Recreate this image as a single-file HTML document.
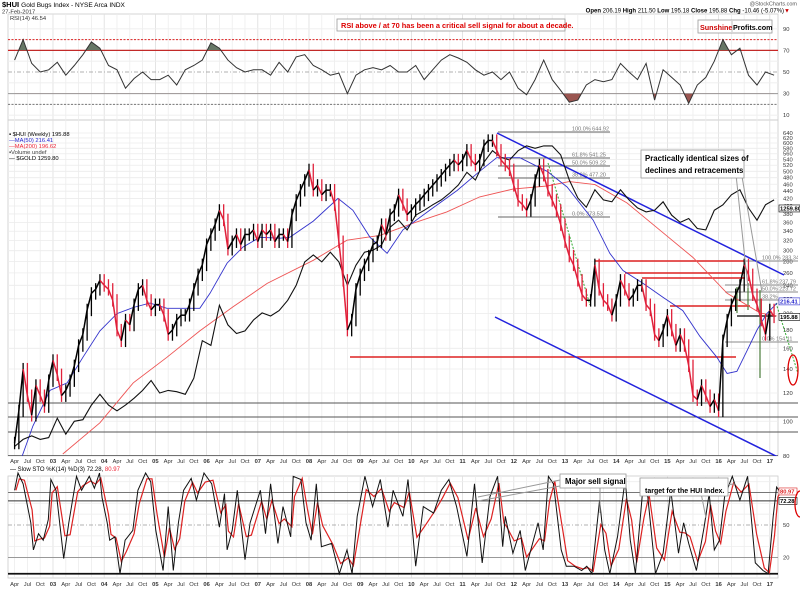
<!DOCTYPE html>
<html><head><meta charset="utf-8"><style>
html,body{margin:0;padding:0;background:#fff}
svg{display:block;font-family:"Liberation Sans",sans-serif}
</style></head><body>
<svg id="c" width="800" height="591" viewBox="0 0 800 591" xmlns="http://www.w3.org/2000/svg">
<rect width="800" height="591" fill="#fff"/>
<g id="grid"></g>
<text x="2" y="7" font-size="7.5" font-weight="bold">$HUI <tspan font-weight="normal" font-size="6.5">Gold Bugs Index - NYSE Arca INDX</tspan></text>
<text x="2" y="13.5" font-size="5.8" fill="#333">27-Feb-2017</text>
<text x="797" y="5.5" font-size="5.5" fill="#555" text-anchor="end">@StockCharts.com</text>
<text x="790" y="12.5" font-size="6" text-anchor="end"><tspan font-weight="bold">Open</tspan> 206.19 <tspan font-weight="bold">High</tspan> 211.50 <tspan font-weight="bold">Low</tspan> 195.18 <tspan font-weight="bold">Close</tspan> 195.88 <tspan font-weight="bold">Chg</tspan> -10.46 (-5.07%)<tspan fill="#c00">▼</tspan></text>
<text x="10" y="20" font-size="5.8" fill="#333">RSI(14) 46.54</text>
<g id="plots"></g>
<g>
<rect x="337" y="19" width="228" height="12" fill="#fff" stroke="#999" stroke-width="0.8"/>
<text x="341" y="28" font-size="7.4" font-weight="bold" fill="#d00">RSI above / at 70 has been a critical sell signal for about a decade.</text></g>
<g>
<rect x="698" y="20" width="74" height="13" fill="#fff" stroke="#999" stroke-width="0.8"/>
<text x="700" y="30" font-size="7.2" font-weight="bold" fill="#c00">Sunshine</text>
<line x1="732" y1="21" x2="732" y2="32" stroke="#999" stroke-width="0.6"/>
<text x="733" y="30" font-size="7.2" font-weight="bold">Profits.com</text></g>
<g font-size="5.8">
<text x="9" y="136">▪ $HUI (Weekly) 195.88</text>
<text x="9" y="142" fill="#22c">—MA(50) 216.41</text>
<text x="9" y="148" fill="#e23">—MA(200) 196.62</text>
<text x="9" y="154" fill="#444">▪Volume undef</text>
<text x="9" y="160">— $GOLD 1259.80</text></g>
<text x="10" y="471" font-size="6">— Slow STO %K(14) %D(3) 72.28, <tspan fill="#e23">80.97</tspan></text>
<g>
<line x1="735" y1="165" x2="748" y2="288" stroke="#999" stroke-width="1"/>
<line x1="740" y1="165" x2="762" y2="292" stroke="#999" stroke-width="1"/>
<rect x="641" y="150" width="103" height="28" fill="#fff" stroke="#999" stroke-width="0.8"/>
<text x="645" y="161" font-size="7.8" font-weight="bold">Practically identical sizes of</text>
<text x="645" y="173" font-size="7.8" font-weight="bold">declines and retracements</text></g>
<g>
<line x1="560" y1="480" x2="478" y2="497" stroke="#999" stroke-width="1"/>
<line x1="560" y1="486" x2="478" y2="501" stroke="#999" stroke-width="1"/>
<line x1="600" y1="488" x2="600" y2="513" stroke="#999" stroke-width="1"/>
<line x1="700" y1="488" x2="706" y2="518" stroke="#999" stroke-width="1"/>
<line x1="680" y1="488" x2="735" y2="484" stroke="#999" stroke-width="1"/>
<rect x="560" y="474" width="66" height="14" fill="#fff" stroke="#999" stroke-width="0.8"/>
<text x="565" y="484" font-size="7.8" font-weight="bold">Major sell signal</text>
<rect x="640" y="478" width="88" height="18" fill="#fff" stroke="#999" stroke-width="0.8"/>
<text x="645" y="493" font-size="7" font-weight="bold">target for the HUI Index.</text></g>
<ellipse cx="793" cy="370" rx="5" ry="15" fill="none" stroke="#d00" stroke-width="1.3"/>
<ellipse cx="800" cy="504" rx="5" ry="13" fill="none" stroke="#d00" stroke-width="1.3"/>
</svg>
<script>
// ---- data (monthly from Apr 2002) ----
const huiValues=[87,107,140,118,104,126,118,110,130,148,135,118,122,130,143,163,175,205,228,234,248,240,234,218,180,168,192,186,212,234,240,218,205,212,212,198,175,180,192,198,198,212,234,257,274,312,333,355,389,366,303,318,333,312,333,333,343,318,343,333,343,318,333,333,318,378,415,443,472,505,443,457,430,443,443,404,318,248,180,192,234,257,274,290,312,318,355,333,378,389,430,404,378,389,404,415,430,443,457,472,488,505,521,538,521,538,573,538,521,538,590,610,610,573,538,521,505,457,415,404,389,415,472,521,488,443,415,389,355,318,290,274,248,226,218,218,274,234,218,212,198,218,248,234,218,226,240,240,212,205,175,168,180,198,180,163,175,163,143,118,115,126,118,110,115,107,168,192,212,226,240,274,257,226,212,192,175,205,196];
const goldStep=2;
const goldValues=[85,89,91,89,90,102,92,100,101,111,119,111,107,111,116,122,130,120,122,121,119,132,168,163,211,186,176,179,192,201,197,204,218,240,279,292,279,297,279,240,273,297,301,311,349,365,343,377,389,403,416,435,458,497,473,530,571,547,538,571,589,580,589,589,556,473,421,397,444,416,411,444,416,395,385,389,411,377,360,369,346,343,389,403,430,444,395,365,403,416];
const ma50Months=[1.3,4.3,8.3,12.3,16,20,24,27.8,31.7,35.7,39.5,43.4,45.8,49.8,53.5,57.5,62.2,64.5,70,75.8,79.3,83.3,87.3,91,97.3,103.7,109,113,118.4,124.8,129.5,135.6,139.5,142.6,147.3,152,156.6,160.6,164.6,167,169.3,171.6,174,176.3,178.7];
const ma50Values=[77,97,122,128,151,179,200,208,214,207,207,207,228,277,307,327,325,327,363,420,389,327,295,343,389,442,500,546,546,500,452,365,295,264,243,222,204,173,151,136,138,157,180,200,214];
const ma200Months=[11.3,20,27.8,35.7,43.4,51.2,59.2,70,77.9,85.6,93.4,101.3,109,116.8,124.8,130,136,143.5,151.3,159,167,174.7,178.6];
const ma200Values=[81,99,128,151,179,209,243,282,321,331,358,385,424,446,455,468,459,408,342,287,228,201,197];
const rsiStep=2;
const rsiValues=[61,80,58,50,52,59,47,56,66,78,72,56,52,35,44,50,43,43,47,38,52,56,61,77,72,61,54,50,52,52,47,59,50,64,66,56,52,47,49,30,47,52,54,52,56,50,50,56,43,52,61,66,63,59,52,47,50,43,50,35,29,43,61,43,33,22,24,38,43,41,43,58,50,43,58,24,52,45,38,21,38,45,60,80,66,72,47,38,50,47];
const stoMonths=[0,0.8,2,3.8,4.4,5.6,6.7,7.9,8.5,9.7,11.5,12.7,14.5,15.7,17.5,18.7,19.9,20.5,21.7,22.3,23.5,24.7,25.9,27.7,28.9,30.7,31.9,33.1,34.8,36,37.2,38.4,39.6,41.4,42.6,44.4,46.2,48,49.2,49.8,51,52.2,54,55.2,57.6,58.8,60,61.7,62.9,64.7,65.3,67.1,68.3,69.5,70.7,71.9,74.3,76.1,77.9,79.1,80.3,82.1,83.9,85.7,87.5,88.7,91,92.2,94,95.8,98.2,100,101.8,103.6,106,107.8,109.6,111.4,113.2,114.4,115,116.8,118.5,119.7,122.7,123.9,125.1,126.3,128.1,129.3,131.1,132.9,134.1,135.3,137.1,138.3,139.5,141.3,143.1,144.3,145.5,147.2,148.4,150.2,152,153.8,155.6,156.8,158,159.8,161.6,162.8,164,165.2,166.4,168.2,170,171.8,173.6,175.4,176.6,177.8,178.6,179.5];
const stoValues=[82,98,88,52,27,42,36,55,92,82,19,52,95,82,95,84,98,75,52,36,39,5,36,45,82,98,90,45,8,67,8,52,82,93,73,98,88,48,79,27,45,82,18,52,82,42,88,33,67,39,95,92,52,36,88,30,33,5,27,5,58,95,67,92,48,82,58,92,12,67,61,82,92,67,21,88,15,76,95,30,58,24,45,8,52,27,95,88,27,12,12,8,12,5,73,27,5,39,92,36,5,82,76,5,24,82,24,52,33,8,48,79,27,36,76,95,73,95,15,8,5,58,85,80];
const priceTicks=[640,620,600,580,560,540,520,500,480,460,440,420,400,380,360,340,320,300,280,260,240,220,200,180,160,140,120,100,80];
const rsiTicks=[90,70,50,30,10];
const stoTicks=[80,50,20];
const yearLabels=["03","04","05","06","07","08","09","10","11","12","13","14","15","16","17"];
const quarterLabels=["Apr","Jul","Oct"];

// ---- scales ----
const X0=14.6, PX_PER_MONTH=51.2/12, L=8, R=778;
const xM=m=>X0+m*PX_PER_MONTH;
const yP=v=>133+155.3*Math.log(640/v);
const yR=v=>72-(v-50)*1.08;
const yS=v=>525-(v-50)*1.083;
const NS="http://www.w3.org/2000/svg";
const grid=document.getElementById('grid'), plots=document.getElementById('plots');
function mk(tag,attrs,parent){const e=document.createElementNS(NS,tag);for(const k in attrs)e.setAttribute(k,attrs[k]);parent.appendChild(e);return e;}
function poly(ms,vs,yf,parent,stroke,w,extra){
  const pts=ms.map((m,i)=>xM(m).toFixed(1)+','+yf(vs[i]).toFixed(1)).join(' ');
  const p=mk('polyline',Object.assign({points:pts,fill:'none',stroke:stroke,'stroke-width':w},extra||{}),parent);return p;}

const panels=[[14,120],[120,456],[476,578]];
panels.forEach(([t,b],i)=>{
  const r=mk('rect',{x:L,y:t,width:R-L,height:b-t,fill:'none',stroke:'#ccc','stroke-width':0.8},grid);
  
  
});
for(let q=0;q<60;q++){
  const m=q*3, x=xM(m); if(x>R) break;
  [[14,120],[120,456],[476,578]].forEach(([t,b])=>{
    const ln=mk('line',{x1:x,y1:t,x2:x,y2:b,stroke:(q%4===3)?'#ddd':'#ececec','stroke-width':0.8},grid);
    
    
  });
  const isYear=(q%4===3);
  const lab=isYear?yearLabels[(q-3)/4]:quarterLabels[q%4];
  [463,586].forEach(y=>{
    const t=mk('text',{x:x,y:y,'font-size':5.8,'text-anchor':'middle','font-weight':isYear?'bold':'normal',fill:'#333'},grid);
    t.textContent=lab;
    
    
  });
}
priceTicks.forEach(v=>{
  const y=yP(v);
  const ln=mk('line',{x1:L,y1:y,x2:R,y2:y,stroke:'#ececec','stroke-width':0.8},grid);
  
  
  const t=mk('text',{x:783,y:y+2,'font-size':5.8,fill:'#333'},grid);t.textContent=v;
  
  
});
rsiTicks.forEach(v=>{const t=mk('text',{x:783,y:yR(v)+2,'font-size':5.8,fill:'#333'},grid);t.textContent=v;
  
  });
[10,20,30,40,60,80,90].forEach(v=>{const ln=mk('line',{x1:L,y1:yR(v),x2:R,y2:yR(v),stroke:'#eee','stroke-width':0.8},grid);
  
  });
stoTicks.forEach(v=>{const t=mk('text',{x:783,y:yS(v)+2,'font-size':5.8,fill:'#333'},grid);t.textContent=v;
  
  });
[30,40,60,70,90].forEach(v=>{const ln=mk('line',{x1:L,y1:yS(v),x2:R,y2:yS(v),stroke:'#eee','stroke-width':0.8},grid);
  
  });

// ---- RSI panel ----
const rsiG=mk('g',{},plots);


mk('line',{x1:L,y1:yR(80),x2:R,y2:yR(80),stroke:'#d22','stroke-width':1,'stroke-dasharray':'2,1.5'},rsiG);
mk('line',{x1:L,y1:yR(70),x2:R,y2:yR(70),stroke:'#c22','stroke-width':1.3},rsiG);
mk('line',{x1:L,y1:yR(50),x2:R,y2:yR(50),stroke:'#999','stroke-width':0.8,'stroke-dasharray':'4,2,1,2'},rsiG);
mk('line',{x1:L,y1:yR(30),x2:R,y2:yR(30),stroke:'#999','stroke-width':1},rsiG);
mk('line',{x1:L,y1:yR(20),x2:R,y2:yR(20),stroke:'#777','stroke-width':1,'stroke-dasharray':'2,1.5'},rsiG);
const rsiMonths=rsiValues.map((v,i)=>i*rsiStep);
const defs=mk('defs',{},plots);
const c1=mk('clipPath',{id:'above70'},defs);mk('rect',{x:0,y:0,width:800,height:yR(70)},c1);
const c2=mk('clipPath',{id:'below30'},defs);mk('rect',{x:0,y:yR(30),width:800,height:40},c2);
const cm=mk('clipPath',{id:'mainclip'},defs);mk('rect',{x:L,y:120,width:R-L+20,height:336},cm);
let pts=rsiMonths.map((m,i)=>xM(m).toFixed(1)+','+yR(rsiValues[i]).toFixed(1)).join(' ');
const f1=mk('polygon',{points:xM(0)+','+yR(70)+' '+pts+' '+xM(rsiMonths[rsiMonths.length-1])+','+yR(70),fill:'#667766','clip-path':'url(#above70)'},rsiG);


const f2=mk('polygon',{points:xM(0)+','+yR(30)+' '+pts+' '+xM(rsiMonths[rsiMonths.length-1])+','+yR(30),fill:'#9a5550','clip-path':'url(#below30)'},rsiG);


const rl=poly(rsiMonths,rsiValues,yR,rsiG,'#333',1);



// ---- main panel ----
const mg=mk('g',{'clip-path':'url(#mainclip)'},plots);


[403,417,432].forEach(y=>mk('line',{x1:L,y1:y,x2:R+20,y2:y,stroke:'#555','stroke-width':1},mg));
mk('line',{x1:L,y1:456,x2:R,y2:456,stroke:'#444','stroke-width':1.5},mg);
[[132,'100.0% 644.92'],[158,'61.8% 541.25'],[166,'50.0% 509.22'],[178,'38.2% 477.20'],[217,'0.0% 373.53']].forEach(([y,t])=>{
  mk('line',{x1:498,y1:y,x2:610,y2:y,stroke:'#666','stroke-width':0.9},mg);
  const tx=mk('text',{x:572,y:y-1.5,'font-size':5.5,fill:'#777'},mg);tx.textContent=t;
  
  
});
[[261,'100.0% 283.34'],[285,'61.8% 237.79'],[292,'50.0% 223.72'],[300,'38.2%'],[342,'0.0% 154.11']].forEach(([y,t])=>{
  mk('line',{x1:725,y1:y,x2:800,y2:y,stroke:'#888','stroke-width':0.9},mg);
  const tx=mk('text',{x:762,y:y-1.5,'font-size':5.5,fill:'#777'},mg);tx.textContent=t;
  
  
});
[[350,357,736],[595,261,745],[625,273,745],[642,278,745],[670,306,750]].forEach(([x1,y,x2])=>{
  const l=mk('line',{x1:x1,y1:y,x2:x2,y2:y,stroke:'#d22','stroke-width':1.4},mg);
  
  
});
mk('line',{x1:737,y1:316,x2:776,y2:316,stroke:'#000','stroke-width':1.2},mg);
[[737,287,313],[748,283,310],[760,290,378]].forEach(([x,a,b])=>mk('line',{x1:x,y1:a,x2:x,y2:b,stroke:'#4a7a3a','stroke-width':1.2},mg));
mk('line',{x1:548,y1:163,x2:590,y2:305,stroke:'#3a3','stroke-width':1,'stroke-dasharray':'2,1.5'},mg);
mk('line',{x1:776,y1:303,x2:800,y2:380,stroke:'#3a3','stroke-width':1,'stroke-dasharray':'2,1.5'},mg);
const t1=mk('line',{x1:497,y1:133,x2:784,y2:275,stroke:'#22d','stroke-width':1.5},mg);


const t2=mk('line',{x1:495,y1:317,x2:790,y2:463,stroke:'#22d','stroke-width':1.5},mg);


const m200=poly(ma200Months,ma200Values,yP,mg,'#e55',0.9);


const m50=poly(ma50Months,ma50Values,yP,mg,'#33c',0.9);


const goldMonths=goldValues.map((v,i)=>i*goldStep);
const gl=poly(goldMonths,goldValues,yP,mg,'#111',1.1);


// HUI: monthly range bars + connecting segments
for(let i=0;i<huiValues.length;i++){
  const v=huiValues[i], prev=huiValues[Math.max(0,i-1)];
  const hi=Math.max(v,prev)*1.04, lo=Math.min(v,prev)*0.96;
  const col=v<prev?'#e0203a':'#000';
  const b=mk('line',{x1:xM(i),y1:yP(hi),x2:xM(i),y2:yP(lo),stroke:col,'stroke-width':1.3},mg);
  
  
  if(i>0){
    const s=mk('line',{x1:xM(i-1),y1:yP(prev),x2:xM(i),y2:yP(v),stroke:col,'stroke-width':1.5},mg);
    
    
  }
}
[[yP(195.88),'195.88','#000'],[yP(216.41),'216.41','#22c'],[yP(1259.8/3.2),'1259.80','#000']].forEach(([y,t,c])=>{
  mk('rect',{x:779,y:y-3.5,width:21,height:7,fill:'#fff',stroke:c,'stroke-width':0.6},plots);
  const tx=mk('text',{x:780,y:y+2.2,'font-size':5.8,'font-weight':'bold',fill:c},plots);tx.textContent=t;
  
  
});

// ---- STO panel ----
const sg=mk('g',{},plots);


mk('line',{x1:L,y1:yS(80),x2:R,y2:yS(80),stroke:'#777','stroke-width':1},sg);
mk('line',{x1:L,y1:yS(72.28),x2:R,y2:yS(72.28),stroke:'#333','stroke-width':1},sg);
mk('line',{x1:L,y1:yS(50),x2:R,y2:yS(50),stroke:'#999','stroke-width':0.8,'stroke-dasharray':'4,2,1,2'},sg);
mk('line',{x1:L,y1:yS(20),x2:R,y2:yS(20),stroke:'#999','stroke-width':1},sg);
mk('line',{x1:L,y1:yS(5),x2:R,y2:yS(5),stroke:'#111','stroke-width':1.8},sg);
const stoD=stoValues.map((v,i)=>{const a=stoValues[Math.max(0,i-1)];return (2*v+a)/3;});
const dl=poly(stoMonths.map(m=>m+0.3),stoD,yS,sg,'#d22',1.2);


const kl=poly(stoMonths,stoValues,yS,sg,'#111',1);


[[yS(80.97),'80.97','#d22'],[yS(72.28),'72.28','#000']].forEach(([y,t,c])=>{
  mk('rect',{x:779,y:y-3.5,width:18,height:7,fill:'#fff',stroke:c,'stroke-width':0.6},plots);
  const tx=mk('text',{x:780,y:y+2.2,'font-size':5.8,'font-weight':'bold',fill:c},plots);tx.textContent=t;
  
  
});
</script>
</body></html>
